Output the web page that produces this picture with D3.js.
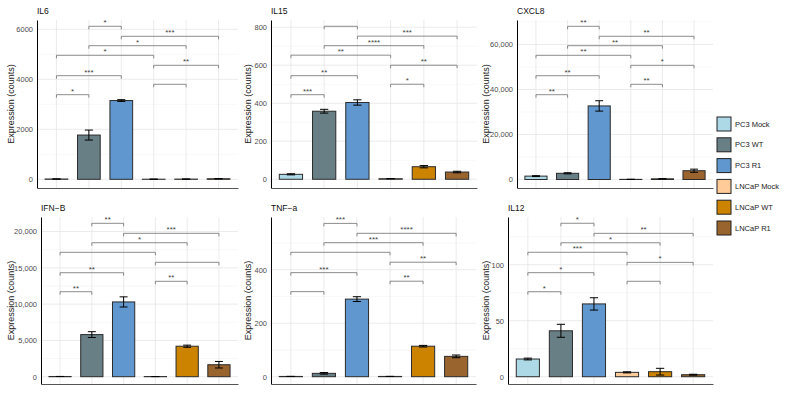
<!doctype html>
<html>
<head>
<meta charset="UTF-8">
<title>Cytokine expression</title>
<style>
  body { margin: 0; background: #fff; }
  svg text { font-family: "Liberation Sans", Arial, sans-serif; }
</style>
</head>
<body>
<div id="chart"></div>
<script src="https://cdn.jsdelivr.net/npm/d3@7"></script>
<script>
// groups on the x axis (same for every panel)
const groups = ["PC3 Mock", "PC3 WT", "PC3 R1", "LNCaP Mock", "LNCaP WT", "LNCaP R1"];
const groupColors = ["#add8e6", "#687f86", "#6097cf", "#ffcc99", "#cc8400", "#99642e"];

const genes = ["IL6", "IL15", "CXCL8", "IFN\u2212B", "TNF\u2212a", "IL12"];

// mean counts, one row per gene
const means = [
  [12, 1770, 3150, 4, 8, 22],
  [26, 358, 404, 3, 66, 38],
  [1500, 2750, 32700, 60, 300, 3900],
  [30, 5800, 10300, 20, 4200, 1650],
  [1, 12.5, 290, 1, 114, 76],
  [15.8, 41, 65, 3.9, 4.5, 1.8]
];
// standard errors
const errors = [
  [3, 200, 35, 1, 2, 4],
  [3, 10, 14, 0.5, 6, 4],
  [200, 250, 2300, 10, 40, 700],
  [5, 400, 700, 5, 150, 450],
  [0.3, 3, 9, 0.3, 3, 5],
  [0.8, 5.8, 5.5, 0.5, 3, 0.4]
];

// pairwise comparisons (indexes into groups)
const comparisons = [[0, 1], [0, 2], [0, 3], [1, 4], [2, 5], [1, 2], [3, 4], [3, 5]];
// height of each comparison bracket, per gene
const bracketY = [
  [3384, 4144, 4960, 5344, 5720, 6120, 3800, 4560],
  [445, 545, 653, 703, 753, 805, 500, 600],
  [37690, 46130, 55200, 59470, 63650, 68090, 42310, 50750],
  [11708, 14325, 17135, 18457, 19752, 21129, 13140, 15757],
  [318, 389, 465, 501, 536, 573, 357, 428],
  [75.9, 92.9, 111.1, 119.6, 128.0, 137.0, 85.2, 102.1]
];
const bracketLabels = [
  ["*", "***", "*", "*", "***", "*", "", "**"],
  ["***", "**", "**", "****", "***", "", "*", "**"],
  ["**", "**", "**", "**", "**", "**", "**", "*"],
  ["**", "**", "", "*", "***", "**", "**", ""],
  ["", "***", "", "***", "****", "***", "**", "**"],
  ["*", "*", "***", "*", "**", "*", "", "*"]
];

// y axis limits and tick labels
const yLimits = [[-348, 6372], [-46, 838], [-3780, 70890], [-1005, 22000], [-27.3, 597], [-6.5, 142.6]];
const yTicks = [
  [0, 2000, 4000, 6000],
  [0, 200, 400, 600, 800],
  [0, 20000, 40000, 60000],
  [0, 5000, 10000, 15000, 20000],
  [0, 200, 400],
  [0, 50, 100]
];
const yFormats = ["d", ",", ",", ",", ",", ","];

// panel plot areas
const frames = [
  {x0: 37, x1: 238, y0: 20, y1: 188, lab: 11},
  {x0: 271, x1: 477, y0: 20, y1: 188, lab: 248},
  {x0: 517, x1: 713, y0: 20, y1: 188, lab: 486},
  {x0: 41, x1: 238, y0: 217, y1: 384, lab: 11},
  {x0: 271, x1: 476, y0: 217, y1: 384, lab: 248},
  {x0: 508, x1: 713, y0: 217, y1: 384, lab: 486}
];

const svg = d3.select("#chart").append("svg")
  .attr("width", 785)
  .attr("height", 393)
  .style("display", "block");

genes.forEach(function(gene, gi) {
  const f = frames[gi];
  const g = svg.append("g");

  const x = d3.scalePoint().domain(groups).range([f.x0, f.x1]).padding(0.6);
  const y = d3.scaleLinear().domain(yLimits[gi]).range([f.y1, f.y0]);
  const step = x.step();
  const bw = step * 0.7;

  // minor grid
  const tk = yTicks[gi];
  const ts = tk[1] - tk[0];
  const minor = [];
  for (let v = Math.floor(yLimits[gi][0] / ts) * ts + ts / 2; v <= yLimits[gi][1]; v += ts) {
    if (v >= yLimits[gi][0]) minor.push(v);
  }
  g.selectAll(".minor").data(minor).join("line")
    .attr("x1", f.x0).attr("x2", f.x1)
    .attr("y1", d => y(d)).attr("y2", d => y(d))
    .attr("stroke", "#f0f0f0").attr("stroke-width", 0.5);

  // major grid
  g.selectAll(".hmajor").data(tk).join("line")
    .attr("x1", f.x0).attr("x2", f.x1)
    .attr("y1", d => y(d)).attr("y2", d => y(d))
    .attr("stroke", "#e3e3e3").attr("stroke-width", 0.7);
  g.selectAll(".vmajor").data(groups).join("line")
    .attr("x1", d => x(d)).attr("x2", d => x(d))
    .attr("y1", f.y0).attr("y2", f.y1)
    .attr("stroke", "#e3e3e3").attr("stroke-width", 0.7);

  // bars
  g.selectAll(".bar").data(groups).join("rect")
    .attr("x", d => x(d) - bw / 2)
    .attr("y", (d, i) => y(Math.max(means[gi][i], 0)))
    .attr("width", bw)
    .attr("height", (d, i) => Math.max(y(0) - y(means[gi][i]), 0))
    .attr("fill", (d, i) => groupColors[i])
    .attr("stroke", "#2b2b2b")
    .attr("stroke-width", 1);

  // error bars
  const cw = step * 0.25;
  groups.forEach(function(grp, i) {
    const cx = x(grp);
    const lo = y(means[gi][i] - errors[gi][i]);
    const hi = y(means[gi][i] + errors[gi][i]);
    g.append("path")
      .attr("d", `M${cx - cw / 2},${hi}H${cx + cw / 2}M${cx},${hi}V${lo}M${cx - cw / 2},${lo}H${cx + cw / 2}`)
      .attr("fill", "none")
      .attr("stroke", "#000")
      .attr("stroke-width", 1);
  });

  // significance brackets
  comparisons.forEach(function(c, k) {
    const xa = x(groups[c[0]]), xb = x(groups[c[1]]);
    const yy = y(bracketY[gi][k]);
    g.append("path")
      .attr("d", `M${xa},${yy + 3}V${yy}H${xb}V${yy + 3}`)
      .attr("fill", "none")
      .attr("stroke", "#707070")
      .attr("stroke-width", 0.8);
    if (bracketLabels[gi][k]) {
      g.append("text")
        .attr("x", (xa + xb) / 2)
        .attr("y", yy - 1)
        .attr("text-anchor", "middle")
        .attr("font-size", 8)
        .attr("fill", "#444")
        .text(bracketLabels[gi][k]);
    }
  });

  // axes
  const yAxis = g.append("g")
    .attr("transform", `translate(${f.x0},0)`)
    .call(d3.axisLeft(y).tickValues(tk).tickFormat(d3.format(yFormats[gi])).tickSize(0).tickPadding(4));
  yAxis.select(".domain").attr("stroke", "#000").attr("stroke-width", 1);
  yAxis.selectAll("text").attr("font-size", 7.5).attr("fill", "#4d4d4d")
    .style("font-family", "'Liberation Sans', Arial, sans-serif");

  const xAxis = g.append("g")
    .attr("transform", `translate(0,${f.y1})`)
    .call(d3.axisBottom(x).tickSize(0).tickFormat(""));
  xAxis.select(".domain").attr("stroke", "#555").attr("stroke-width", 1.2);

  // titles
  g.append("text")
    .attr("x", f.x0)
    .attr("y", f.y0 - 6)
    .attr("font-size", 8.5)
    .attr("fill", "#111")
    .text(gene);
  g.append("text")
    .attr("transform", `translate(${f.lab},${(f.y0 + f.y1) / 2}) rotate(-90)`)
    .attr("dy", "0.35em")
    .attr("text-anchor", "middle")
    .attr("font-size", 9)
    .attr("fill", "#222")
    .text("Expression (counts)");
});

// legend
const legend = svg.append("g").attr("transform", "translate(717,117)");
groups.forEach(function(grp, i) {
  const row = legend.append("g").attr("transform", `translate(0,${i * 20.8})`);
  row.append("rect")
    .attr("width", 14).attr("height", 14)
    .attr("fill", groupColors[i])
    .attr("stroke", "#222").attr("stroke-width", 1);
  row.append("text")
    .attr("x", 18).attr("y", 7).attr("dy", "0.35em")
    .attr("font-size", 7.5)
    .attr("fill", "#222")
    .text(grp);
});
</script>
</body>
</html>
